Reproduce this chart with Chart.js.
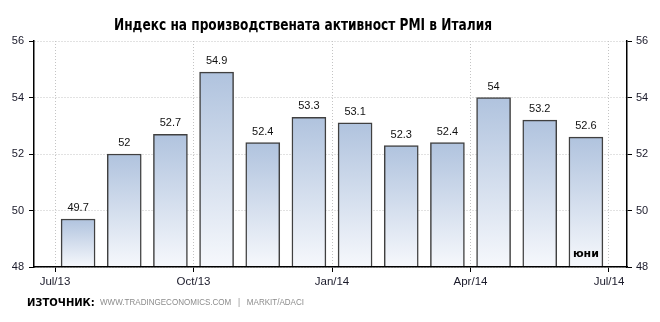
<!DOCTYPE html>
<html>
<head>
<meta charset="utf-8">
<script src="https://cdn.jsdelivr.net/npm/chart.js@4/dist/chart.umd.min.js"></script>
<style>
  html, body { margin: 0; padding: 0; background: #ffffff; }
  #wrap { width: 660px; height: 322px; position: relative; }
</style>
</head>
<body>
<div id="wrap"><canvas id="pmi" width="660" height="322"></canvas></div>
<script>
// Italy manufacturing PMI, Jul 2013 – Jun 2014 (monthly)
const months = ['Jul/13','Aug/13','Sep/13','Oct/13','Nov/13','Dec/13','Jan/14','Feb/14','Mar/14','Apr/14','May/14','Jun/14'];
const pmiValues = [49.7, 52, 52.7, 54.9, 52.4, 53.3, 53.1, 52.3, 52.4, 54, 53.2, 52.6];
// quarter tick labels, placed at month offsets from Jul 2013
const tickMonths = [0, 3, 6, 9, 12];
const tickLabels = ['Jul/13', 'Oct/13', 'Jan/14', 'Apr/14', 'Jul/14'];
const yTicks = [48, 50, 52, 54, 56];

const titleText = 'Индекс на производствената активност PMI в Италия';
const lastLabel = 'юни';
const sourceLabel = 'ИЗТОЧНИК:';
const sourceText = 'WWW.TRADINGECONOMICS.COM   |   MARKIT/ADACI';

// each bar sits in the middle of its month
const points = pmiValues.map((v, i) => ({ x: i + 0.5, y: v }));

function barFill(ctx) {
  const chart = ctx.chart;
  const y = chart.scales && chart.scales.y;
  if (!chart.chartArea || !y || ctx.raw == null) return '#c6d4e8';
  const top = y.getPixelForValue(ctx.raw.y);
  const bottom = y.getPixelForValue(y.min);
  const g = chart.ctx.createLinearGradient(0, top, 0, bottom);
  g.addColorStop(0, '#b0c3de');
  g.addColorStop(1, '#f6f8fc');
  return g;
}

const decorations = {
  id: 'decorations',
  afterDatasetsDraw(chart) {
    const c = chart.ctx;
    const xs = chart.scales.x, ys = chart.scales.y;
    c.save();
    // value labels above the bars
    c.fillStyle = '#111111';
    c.font = '11px "Liberation Sans", Arial, sans-serif';
    c.textAlign = 'center';
    c.textBaseline = 'middle';
    points.forEach(p => {
      c.fillText(String(p.y), xs.getPixelForValue(p.x), ys.getPixelForValue(p.y) - 11);
    });
    // month name inside the latest bar
    const last = points[points.length - 1];
    c.font = 'bold 11px "DejaVu Sans", sans-serif';
    c.fillStyle = '#000000';
    c.fillText(lastLabel, xs.getPixelForValue(last.x), ys.getPixelForValue(ys.min) - 13);
    // title
    c.font = 'bold 15px "DejaVu Sans", sans-serif';
    c.fillStyle = '#000000';
    c.textAlign = 'center';
    c.fillText(titleText, 303, 26, 378);
    // source line
    c.textAlign = 'left';
    c.font = 'bold 10px "DejaVu Sans", sans-serif';
    c.fillText(sourceLabel, 27, 303, 69);
    c.font = '8.5px "Liberation Sans", Arial, sans-serif';
    c.fillStyle = '#8c8c8c';
    c.fillText(sourceText, 100, 303, 204);
    c.restore();
  }
};

const tickFont = { family: '"Liberation Sans", Arial, sans-serif', size: 11 };

new Chart(document.getElementById('pmi'), {
  type: 'bar',
  data: {
    labels: months,
    datasets: [{
      data: points,
      backgroundColor: barFill,
      borderColor: '#404040',
      borderWidth: 1.5,
      borderSkipped: 'bottom',
      barThickness: 34
    }]
  },
  options: {
    responsive: false,
    animation: false,
    events: [],
    layout: { padding: { top: 41, left: 0, right: 0, bottom: 0 } },
    plugins: { legend: { display: false }, tooltip: { enabled: false }, title: { display: false } },
    scales: {
      x: {
        type: 'linear',
        offset: false,
        min: -0.455,
        max: 12.39,
        afterBuildTicks: s => { s.ticks = tickMonths.map(v => ({ value: v })); },
        afterFit: s => { s.height = 55; },
        ticks: {
          autoSkip: false,
          maxRotation: 0,
          padding: 3,
          color: '#1a1a2a',
          font: { family: '"Liberation Sans", Arial, sans-serif', size: 11.5 },
          callback: v => tickLabels[tickMonths.indexOf(v)]
        },
        grid: {
          offset: false,
          color: '#c4c4c4',
          lineWidth: 1,
          tickColor: '#000000',
          tickLength: 5,
          tickBorderDash: []
        },
        border: { color: '#000000', width: 1.5, dash: [1, 2], z: 1 }
      },
      y: {
        position: 'left',
        min: 48,
        max: 56,
        afterBuildTicks: s => { s.ticks = yTicks.map(v => ({ value: v })); },
        afterFit: s => { s.width = 34; },
        ticks: { padding: 5, color: '#1a1a2a', font: tickFont },
        grid: {
          color: '#c4c4c4',
          lineWidth: 1,
          tickColor: '#000000',
          tickLength: 5,
          tickBorderDash: []
        },
        border: { color: '#000000', width: 1.5, dash: [1, 2] }
      },
      y2: {
        position: 'right',
        min: 48,
        max: 56,
        afterBuildTicks: s => { s.ticks = yTicks.map(v => ({ value: v })); },
        afterFit: s => { s.width = 33; },
        ticks: { padding: 4, color: '#1a1a2a', font: tickFont },
        grid: {
          drawOnChartArea: false,
          tickColor: '#000000',
          tickLength: 5
        },
        border: { color: '#000000', width: 1.5 }
      }
    }
  },
  plugins: [decorations]
});
</script>
</body>
</html>
